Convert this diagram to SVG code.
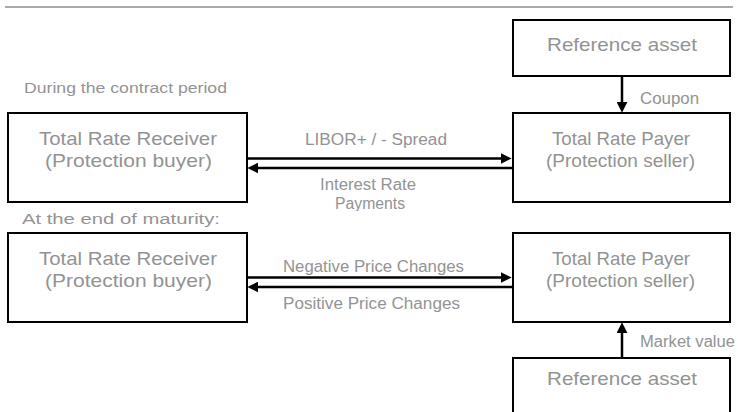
<svg xmlns="http://www.w3.org/2000/svg" width="738" height="412" viewBox="0 0 738 412">
  <style>
    .box { fill: #ffffff; stroke: #000000; stroke-width: 2; }
    .node-text { font-family: "Liberation Sans", Arial, sans-serif; font-size: 18.5px; fill: #939393; text-anchor: middle; }
    .label { font-family: "Liberation Sans", Arial, sans-serif; font-size: 16px; fill: #939393; }
    .heading { font-family: "Liberation Sans", Arial, sans-serif; font-size: 15.5px; fill: #939393; }
    .flow { stroke: #000000; stroke-width: 2.5; fill: none; marker-end: url(#head); }
    .rule { stroke: #8c8c8c; stroke-width: 1.5; }
  </style>
  <defs>
    <marker id="head" viewBox="0 0 10 10" refX="3" refY="5" markerWidth="11" markerHeight="11" markerUnits="userSpaceOnUse" orient="auto">
      <path d="M0,0 L10,5 L0,10 z" fill="#000000"/>
    </marker>
    <clipPath id="payments-clip">
      <rect x="300" y="195" width="140" height="16"/>
    </clipPath>
  </defs>

  <rect width="738" height="412" fill="#ffffff"/>
  <line class="rule" x1="5" y1="7" x2="733" y2="7"/>

  <!-- section headings -->
  <text class="heading" x="24" y="93" textLength="203" lengthAdjust="spacingAndGlyphs">During the contract period</text>
  <text class="heading" x="22" y="224" font-size="16.5" textLength="198" lengthAdjust="spacingAndGlyphs">At the end of maturity:</text>

  <!-- nodes -->
  <g id="reference-asset-top">
    <rect class="box" x="513" y="20" width="217" height="56"/>
    <text class="node-text" x="622" y="51" textLength="150" lengthAdjust="spacingAndGlyphs">Reference asset</text>
  </g>

  <g id="receiver-contract">
    <rect class="box" x="8" y="113" width="239" height="89"/>
    <text class="node-text" x="128" y="145" textLength="178" lengthAdjust="spacingAndGlyphs">Total Rate Receiver</text>
    <text class="node-text" x="128.5" y="167" textLength="167" lengthAdjust="spacingAndGlyphs">(Protection buyer)</text>
  </g>

  <g id="payer-contract">
    <rect class="box" x="513" y="113" width="217" height="89"/>
    <text class="node-text" x="621" y="144.5" textLength="138" lengthAdjust="spacingAndGlyphs">Total Rate Payer</text>
    <text class="node-text" x="620.5" y="166.5" textLength="149" lengthAdjust="spacingAndGlyphs">(Protection seller)</text>
  </g>

  <g id="receiver-maturity">
    <rect class="box" x="8" y="233" width="239" height="89"/>
    <text class="node-text" x="128" y="265" textLength="178" lengthAdjust="spacingAndGlyphs">Total Rate Receiver</text>
    <text class="node-text" x="128.5" y="287" textLength="167" lengthAdjust="spacingAndGlyphs">(Protection buyer)</text>
  </g>

  <g id="payer-maturity">
    <rect class="box" x="513" y="233" width="217" height="89"/>
    <text class="node-text" x="621" y="264.5" textLength="138" lengthAdjust="spacingAndGlyphs">Total Rate Payer</text>
    <text class="node-text" x="620.5" y="286.5" textLength="149" lengthAdjust="spacingAndGlyphs">(Protection seller)</text>
  </g>

  <g id="reference-asset-bottom">
    <rect class="box" x="513" y="358" width="217" height="70"/>
    <text class="node-text" x="622" y="385" textLength="150" lengthAdjust="spacingAndGlyphs">Reference asset</text>
  </g>

  <!-- connectors -->
  <g id="connectors">
    <line class="flow" x1="622" y1="76" x2="622" y2="105"/>
    <line class="flow" x1="247" y1="158.5" x2="504" y2="158.5"/>
    <line class="flow" x1="513" y1="168" x2="255" y2="168"/>
    <line class="flow" x1="247" y1="277.5" x2="504" y2="277.5"/>
    <line class="flow" x1="513" y1="287" x2="255" y2="287"/>
    <line class="flow" x1="622" y1="358" x2="622" y2="330"/>
  </g>

  <!-- connector labels -->
  <g id="connector-labels">
    <text class="label" x="640" y="104" textLength="59" lengthAdjust="spacingAndGlyphs">Coupon</text>
    <text class="label" x="305" y="145" textLength="142" lengthAdjust="spacingAndGlyphs">LIBOR+ / - Spread</text>
    <text class="label" x="320" y="190" textLength="96" lengthAdjust="spacingAndGlyphs">Interest Rate</text>
    <text class="label" x="335" y="209" textLength="70" lengthAdjust="spacingAndGlyphs" clip-path="url(#payments-clip)">Payments</text>
    <text class="label" x="283" y="272" textLength="181" lengthAdjust="spacingAndGlyphs">Negative Price Changes</text>
    <text class="label" x="283" y="309" textLength="177" lengthAdjust="spacingAndGlyphs">Positive Price Changes</text>
    <text class="label" x="640" y="347" textLength="95" lengthAdjust="spacingAndGlyphs">Market value</text>
  </g>
</svg>
